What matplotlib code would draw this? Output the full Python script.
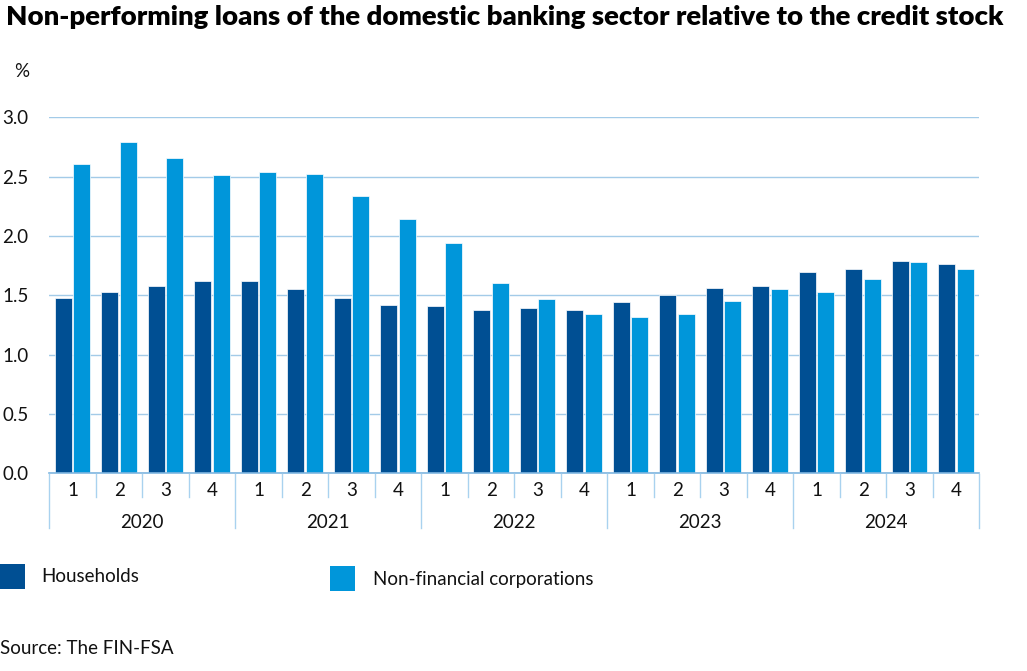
import matplotlib
matplotlib.use("Agg")
import matplotlib.pyplot as plt
import matplotlib.transforms as mtransforms
from matplotlib.patches import Rectangle
import numpy as np

years = ["2020", "2021", "2022", "2023", "2024"]
quarters = ["1", "2", "3", "4"]
households = [1.48, 1.53, 1.58, 1.62,
              1.62, 1.55, 1.48, 1.42,
              1.41, 1.38, 1.39, 1.38,
              1.44, 1.50, 1.56, 1.58,
              1.70, 1.72, 1.79, 1.76]
nonfin = [2.61, 2.79, 2.66, 2.51,
          2.54, 2.52, 2.34, 2.14,
          1.94, 1.60, 1.47, 1.34,
          1.32, 1.34, 1.45, 1.55,
          1.53, 1.64, 1.78, 1.72]
series_names = ["Households", "Non-financial corporations"]
title = "Non-performing loans of the domestic banking sector relative to the credit stock"
source = "Source: The FIN-FSA"

DARK = "#004f93"
LIGHT = "#0096da"
GRID = "#a3cbe8"
SEP = "#a9d2ef"
TXT = "#111111"
FONT = ["Lato", "DejaVu Sans"]
plt.rcParams["font.family"] = FONT
FS = 13.5

W, H = 1027, 671
fig = plt.figure(figsize=(W / 100, H / 100), dpi=100)

def fx(px):
    return px / W

def fy(py):
    return 1 - py / H

ax_left, ax_right, ax_top, ax_bot = 49.3, 979.3, 117.3, 473.3
ax = fig.add_axes([fx(ax_left), fy(ax_bot), fx(ax_right - ax_left), (ax_bot - ax_top) / H])

n = len(households)
x = np.arange(n)
bw = 0.37
ax.bar(x - 0.2, households, width=bw, color=DARK, edgecolor="white", linewidth=0.5, zorder=3)
ax.bar(x + 0.2, nonfin, width=bw, color=LIGHT, edgecolor="white", linewidth=0.5, zorder=3)

ax.set_xlim(-0.5, n - 0.5)
ax.set_ylim(0, 3.0)
yt = np.arange(0, 3.01, 0.5)
ax.set_yticks(yt)
ax.set_yticklabels([f"{v:.1f}" for v in yt], fontsize=FS, color=TXT)
ax.tick_params(axis="y", length=0, pad=15)
ax.set_xticks([])
for s in ["top", "right", "left"]:
    ax.spines[s].set_visible(False)
ax.spines["bottom"].set_color("#7fb6e0")
ax.spines["bottom"].set_linewidth(1.2)
ax.spines["bottom"].set_zorder(4)
ax.grid(axis="y", color=GRID, linewidth=1.0, zorder=0)
ax.set_axisbelow(True)

# category labels and separators
trans = mtransforms.blended_transform_factory(ax.transData, fig.transFigure)
for i in range(n):
    ax.text(i, fy(490), quarters[i % 4], transform=trans, ha="center", va="center",
            fontsize=FS, color=TXT)
for b in range(n + 1):
    xb = b - 0.5
    bottom = 528 if b % 4 == 0 else 497
    line = plt.Line2D([xb, xb], [fy(474), fy(bottom)], transform=trans, color=SEP,
                      linewidth=1.0, clip_on=False)
    fig.add_artist(line)
for yi, yr in enumerate(years):
    ax.text(yi * 4 + 1.5, fy(523), yr, transform=trans, ha="center", va="center",
            fontsize=FS, color=TXT)

# title, scaled to width
t = fig.text(fx(6), fy(25), title, fontsize=17, fontweight="heavy", color="black",
             ha="left", va="baseline")
r = fig.canvas.get_renderer()
wpx = t.get_window_extent(renderer=r).width
t.set_fontsize(17 * 996 / wpx)

fig.text(fx(14), fy(77), "%", fontsize=FS, color=TXT, ha="left", va="baseline")

# legend
fig.add_artist(Rectangle((fx(0), fy(589)), fx(25), 25 / H, transform=fig.transFigure,
                         facecolor=DARK, edgecolor="none"))
fig.text(fx(41), fy(577), series_names[0], fontsize=FS, color=TXT, ha="left", va="center")
fig.add_artist(Rectangle((fx(330), fy(591)), fx(25), 25 / H, transform=fig.transFigure,
                         facecolor=LIGHT, edgecolor="none"))
fig.text(fx(373), fy(579), series_names[1], fontsize=FS, color=TXT, ha="left", va="center")

fig.text(fx(0), fy(648), source, fontsize=FS, color=TXT, ha="left", va="center")

fig.savefig("out.png", dpi=100, facecolor="white")
